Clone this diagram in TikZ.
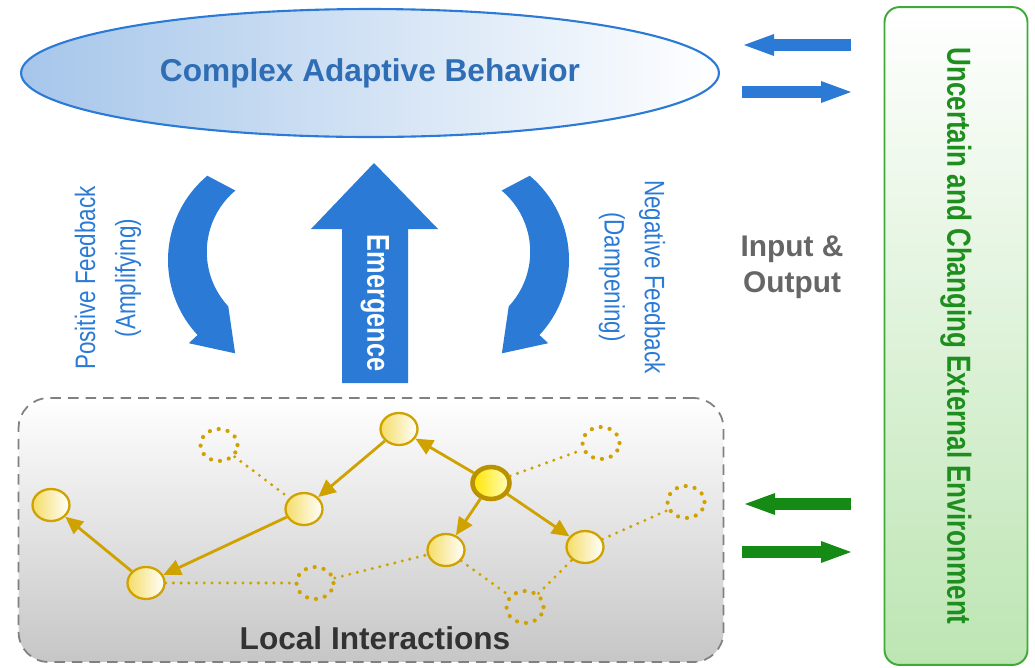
\documentclass[tikz,border=0pt]{standalone}
\usepackage{fontspec}
\setmainfont{Liberation Sans}
\newfontfamily\narrowfont[FakeStretch=0.8]{Liberation Sans}
\newfontfamily\envfont[FakeStretch=0.78]{Liberation Sans}
\usetikzlibrary{positioning}
\usetikzlibrary{shapes.geometric, arrows.meta, calc}

\definecolor{cabblue}{HTML}{2B7BD6}
\definecolor{cabtext}{HTML}{2F6DB5}
\definecolor{cabfill}{HTML}{A6C6EA}
\definecolor{envgreen}{HTML}{1E8F1E}
\definecolor{envline}{HTML}{3DAA38}
\definecolor{envarrow}{HTML}{158A15}
\definecolor{envfill}{HTML}{BDE5B3}
\definecolor{gold}{HTML}{CFA200}
\definecolor{agentfill}{HTML}{F5DD66}
\definecolor{boxgray}{HTML}{C6C6C6}
\definecolor{iogray}{HTML}{666666}

\tikzset{
 agent/.style={ellipse, draw=gold, line width=1.3pt, left color=agentfill, right color=white,
   minimum width=0.74cm, minimum height=0.64cm, inner sep=0pt},
 leader/.style={agent, line width=2.6pt, draw=gold!90!black, left color=yellow!80!orange, right color=yellow!25},
 ghost/.style={ellipse, draw=gold, line width=2.4pt, line cap=round, dash pattern=on 0pt off 5.2pt,
   minimum width=0.74cm, minimum height=0.64cm, inner sep=0pt},
 link/.style={gold, line width=1.6pt, -{Triangle[length=10pt,width=9pt]}},
 weak/.style={gold, line width=1.9pt, line cap=round, dash pattern=on 0pt off 4.4pt},
 io/.style={line width=0.24cm, -{Triangle[length=0.6cm,width=0.44cm,line width=0pt]}}
}

\begin{document}
\begin{tikzpicture}[x=0.02cm,y=-0.02cm]

 \useasboundingbox (0,0) rectangle (1035,667);

 % top level behaviour
 \node[ellipse, draw=cabblue, line width=1.2pt, left color=cabfill, right color=white,
   minimum width=13.96cm, minimum height=2.56cm, text=cabtext,
   font=\bfseries\fontsize{18}{20}\selectfont] (cab) at (370,73) {Complex Adaptive Behavior};

 % environment
 \node[rotate=-90, draw=envline, line width=1.1pt, rounded corners=0.3cm,
   top color=white, bottom color=envfill, minimum width=13.16cm, minimum height=2.86cm,
   text=envgreen, font=\envfont\bfseries\fontsize{19}{22}\selectfont] (env) at (956,336)
   {Uncertain and Changing External Environment};

 % local level
 \node[draw=gray, line width=1pt, dash pattern=on 6pt off 4pt, rounded corners=0.6cm,
   top color=white, bottom color=boxgray, minimum width=14.1cm, minimum height=5.28cm] (local) at (371,530) {};
 \node[text=black!80, font=\bfseries\fontsize{18}{20}\selectfont] (loclabel) at (375,638) {Local Interactions};

 % feedback loops and emergence
 \fill[cabblue] (278,260) ++(230:110) arc[start angle=230, end angle=137, radius=110]
   -- ($(278,260)+(137:122)$) -- ($(278,260)+(137:95)+(47:39)$) -- ($(278,260)+(137:68)$)
   arc[start angle=137, end angle=230, radius=80] -- cycle;
 \fill[cabblue] (459,260) ++(-50:110) arc[start angle=-50, end angle=43, radius=110]
   -- ($(459,260)+(43:122)$) -- ($(459,260)+(43:95)+(133:39)$) -- ($(459,260)+(43:68)$)
   arc[start angle=43, end angle=-50, radius=80] -- cycle;
 \fill[cabblue] (342,383) -- (342,229) -- (311,229) -- (374,163) -- (438,229) -- (408,229) -- (408,383) -- cycle;
 \node[rotate=-90, text=white, font=\narrowfont\bfseries\fontsize{18}{20}\selectfont] (emerge) at (375,303) {Emergence};

 \node[rotate=90, align=center, text=cabblue, font=\narrowfont\fontsize{16}{23}\selectfont] (posfb) at (108,278)
   {Positive Feedback\\(Amplifying)};
 \node[rotate=-90, align=center, text=cabblue, font=\narrowfont\fontsize{16}{23}\selectfont] (negfb) at (632,277)
   {Negative Feedback\\(Dampening)};

 % input and output
 \node[align=center, text=iogray, font=\bfseries\fontsize{17}{20.5}\selectfont] (io) at (792,267) {Input \&\\Output};
 \coordinate (envA) at (851,45);  \coordinate (cabA) at (744,45);
 \coordinate (cabB) at (742,92);  \coordinate (envB) at (851,92);
 \coordinate (envC) at (851,504); \coordinate (locC) at (745,504);
 \coordinate (locD) at (742,552); \coordinate (envD) at (851,552);
 \draw[io, cabblue] (envA) -- (cabA);
 \draw[io, cabblue] (cabB) -- (envB);
 \draw[io, envarrow] (envC) -- (locC);
 \draw[io, envarrow] (locD) -- (envD);

 % agents
 \node[agent] (a1) at (51,505) {};
 \node[agent] (a2) at (146,583) {};
 \node[agent] (a3) at (304,509) {};
 \node[agent] (a4) at (399,429) {};
 \node[leader] (a5) at (491,483) {};
 \node[agent] (a6) at (446,550) {};
 \node[agent] (a7) at (585,547) {};
 \node[ghost] (g1) at (219,445) {};
 \node[ghost] (g2) at (601,443) {};
 \node[ghost] (g3) at (686,502) {};
 \node[ghost] (g4) at (315,583) {};
 \node[ghost] (g5) at (525,607) {};

 \draw[weak] (g1) -- (a3);
 \draw[weak] (a5) -- (g2);
 \draw[weak] (a7) -- (g3);
 \draw[weak] (a2) -- (g4);
 \draw[weak] (g4) -- (a6);
 \draw[weak] (a6) -- (g5);
 \draw[weak] (g5) -- (a7);

 \draw[link] (a4) -- (a3);
 \draw[link] (a3) -- (a2);
 \draw[link] (a2) -- (a1);
 \draw[link] (a5) -- (a4);
 \draw[link] (a5) -- (a6);
 \draw[link] (a5) -- (a7);

\end{tikzpicture}
\end{document}
